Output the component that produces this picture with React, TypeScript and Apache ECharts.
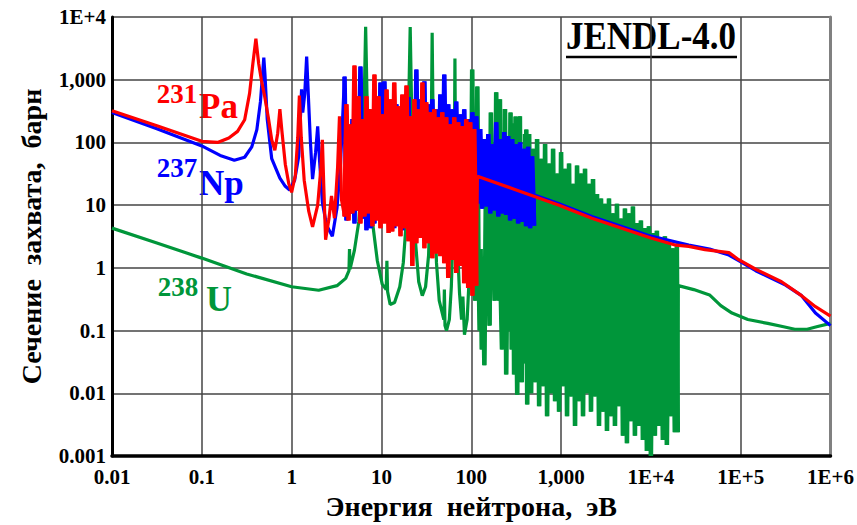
import React, { useEffect, useRef } from 'react';
import * as echarts from 'echarts';

// Tick labels
const ENERGY_TICK_LABELS = ['0.01', '0.1', '1', '10', '100', '1,000', '1E+4', '1E+5', '1E+6'];
const SIGMA_TICK_LABELS = ['0.001', '0.01', '0.1', '1', '10', '100', '1,000', '1E+4'];

// Capture cross-sections, [energy eV, sigma barn]
const PA231_CAPTURE: [number, number][] = [
  [0.01, 320], [0.0316, 185], [0.1, 104], [0.15, 100], [0.2, 118], [0.25, 150], [0.3, 230], [0.34, 600],
  [0.37, 1800], [0.4, 4500], [0.43, 1800], [0.46, 1000], [0.5, 550], [0.55, 250], [0.6, 110], [0.65, 75],
  [0.7, 140], [0.74, 340], [0.78, 150], [0.85, 45], [0.93, 22], [1.0, 16], [1.1, 30], [1.17, 120],
  [1.22, 560], [1.28, 120], [1.38, 25], [1.55, 8], [1.71, 4.5], [1.95, 10], [2.12, 40], [2.2, 110],
  [2.28, 20], [2.39, 2.8], [2.6, 6], [2.78, 14], [3.0, 6.2], [3.25, 40], [3.41, 260], [3.6, 12],
  [3.88, 6.6], [4.08, 405], [4.3, 5.7], [4.53, 195], [4.76, 7.4], [5.01, 1680], [5.27, 8.2], [5.55, 542],
  [5.84, 5.1], [6.15, 235], [6.47, 6.6], [6.81, 542], [7.17, 7.4], [7.55, 338], [7.94, 4.6], [8.36, 1210],
  [8.8, 5.7], [9.27, 542], [9.75, 4.3], [10.3, 281], [10.8, 5.1], [11.4, 700], [12.0, 3.6], [12.6, 487],
  [13.2, 3.8], [13.9, 900], [14.7, 4.6], [15.5, 377], [16.3, 3.2], [17.1, 583], [18.0, 4.3], [19.0, 810],
  [20.0, 2.65], [21.0, 262], [22.1, 1.07], [23.3, 487], [24.5, 2.47], [25.8, 338], [27.1, 3.0], [28.6, 900],
  [30.1, 2.06], [31.6, 436], [33.3, 2.47], [35.0, 303], [36.9, 1.43], [38.8, 338], [40.8, 1.7], [43.0, 252],
  [45.3, 1.54], [47.6, 303], [50.1, 1.19], [52.7, 252], [55.5, 0.69], [58.4, 195], [61.5, 1.33], [64.7, 252],
  [68.1, 0.83], [71.7, 210], [75.5, 1.07], [79.4, 182], [83.6, 0.57], [88.0, 235], [92.6, 0.48], [97.5, 210],
  [103, 0.36], [108, 163], [114, 0.52],
  [117, 29], [300, 18], [950, 10], [2200, 6.2], [10000, 3.0], [19000, 2.3], [26400, 2.2], [40000, 1.95],
  [74000, 1.75], [95000, 1.35], [147000, 0.95], [285000, 0.6], [476000, 0.36], [680000, 0.24], [1000000, 0.17],
];

const NP237_CAPTURE: [number, number][] = [
  [0.01, 300], [0.0316, 165], [0.1, 88], [0.16, 62], [0.23, 52], [0.3, 58], [0.36, 85], [0.41, 160],
  [0.45, 450], [0.48, 1500], [0.49, 2250], [0.505, 1200], [0.535, 235], [0.6, 55], [0.74, 27], [0.85, 20],
  [0.95, 17.5], [1.08, 25], [1.2, 60], [1.26, 300], [1.29, 700], [1.33, 300], [1.4, 600], [1.47, 2330],
  [1.54, 500], [1.62, 100], [1.71, 26], [1.85, 70], [1.95, 180], [2.05, 50], [2.2, 11], [2.45, 4.8],
  [2.84, 3.2], [3.2, 9], [3.5, 45], [3.7, 250],
  [3.88, 1120], [4.08, 5.7], [4.3, 113], [4.53, 7.4], [4.76, 235], [5.01, 5.1], [5.27, 487], [5.55, 8.2],
  [5.84, 1620], [6.15, 6.1], [6.47, 195], [6.81, 4.0], [7.17, 338], [7.55, 4.3], [7.94, 163], [8.36, 5.1],
  [8.8, 405], [9.27, 6.6], [9.75, 900], [10.3, 5.7], [10.8, 940], [11.4, 6.1], [12.0, 338], [12.6, 4.6],
  [13.2, 235], [13.9, 4.3], [14.7, 405], [15.5, 5.1], [16.3, 281], [17.1, 4.0], [18.0, 338], [19.0, 4.6],
  [20.0, 530], [21.0, 3.6], [22.1, 235], [23.3, 4.3], [24.5, 1450], [25.8, 3.8], [27.1, 487], [28.6, 4.6],
  [30.1, 940], [31.6, 3.6], [33.3, 405], [35.0, 4.3], [36.9, 487], [38.8, 3.8], [40.8, 338], [43.0, 4.6],
  [45.3, 583], [47.6, 5.1], [50.1, 1210], [52.7, 4.3], [55.5, 405], [58.4, 4.6], [61.5, 338], [64.7, 5.1],
  [68.1, 450], [71.7, 5.7], [75.5, 281], [79.4, 4.6], [83.6, 338], [88.0, 5.1], [92.6, 235], [97.5, 6.1],
  [103, 303], [108, 6.6], [114, 262], [120, 10.6], [126, 163], [132, 8.8], [139, 113], [147, 9.5],
  [155, 136], [163, 7.4], [171, 94], [180, 8.2], [190, 210], [200, 6.6], [210, 113], [221, 7.4],
  [233, 146], [245, 7.0], [258, 126], [271, 5.7], [286, 113], [301, 6.1], [316, 94], [333, 5.1],
  [350, 100], [369, 5.4], [388, 79], [408, 4.6], [430, 85], [453, 4.3], [476, 60], [501, 4.7],
  [505, 14.5], [950, 10.5], [2200, 6.6], [10000, 3.2], [26400, 2.3], [45000, 2.0], [74000, 1.6], [95000, 1.3],
  [147000, 0.9], [316000, 0.53], [476000, 0.36], [680000, 0.19], [1000000, 0.12],
];

const U238_CAPTURE: [number, number][] = [
  [0.01, 4.3], [0.0316, 2.5], [0.1, 1.43], [0.316, 0.8], [1.0, 0.5], [2.0, 0.44], [3.2, 0.52], [4.0, 0.68],
  [4.35, 0.9], [4.41, 2.0], [4.47, 0.95], [5.0, 1.9], [5.6, 5.5], [6.1, 40], [6.45, 600], [6.67, 7000],
  [6.9, 600], [7.3, 40], [8.0, 5], [9.0, 1.3], [10.2, 0.55], [11.3, 0.45], [11.5, 1.3], [11.7, 0.42],
  [12.5, 0.26], [14, 0.28], [16, 0.5], [17.5, 1.2], [18.6, 4], [19.6, 40], [20.3, 800], [20.9, 6900],
  [21.5, 700], [22.3, 40], [24, 2.5], [26, 0.6], [28.5, 0.36], [31, 0.5], [33.5, 1.6], [35.3, 20],
  [36.2, 600], [36.7, 5600], [37.3, 600], [38.5, 20], [41, 1.2], [44, 0.3], [49.5, 0.15], [50.2, 0.45],
  [51, 0.12], [53, 0.1], [57, 0.15], [60, 0.5], [63, 5], [64.8, 60], [65.8, 2170], [66.8, 60],
  [69, 4], [74, 0.4], [78, 0.15], [80.7, 0.35], [84, 0.086], [90, 0.15], [96, 1], [100, 20],
  [102.5, 1450], [105, 20], [108, 1.5], [111, 0.3], [114, 3], [116.9, 780], [120, 2], [124, 0.1],
  [127, 2], [131, 0.05], [135, 1], [140, 0.028], [145.7, 20], [150, 0.3], [155, 3], [160, 0.12],
  [165.3, 300], [170, 0.5], [176, 4], [182, 0.3], [189.7, 630], [195, 0.5], [200, 4], [204, 0.3],
  [208.5, 490], [214, 0.3], [220, 0.05], [226, 3], [232, 0.2], [237.4, 340], [245, 0.02], [252, 2],
  [260, 0.1], [266, 1.5], [273.7, 300], [282, 0.05], [291, 200], [300, 0.02], [305, 3], [311.4, 260],
  [318, 0.2], [325, 0.0095], [333, 2], [340, 0.05], [347.8, 262], [356, 0.2], [365, 0.015], [372, 1],
  [380, 0.03], [388, 4], [393, 0.2], [397.6, 136], [404, 0.05], [410.3, 160], [415, 0.5], [420, 0.0066],
  [428, 3], [434, 0.05], [441, 136],
  [464, 0.01], [489, 79], [514, 0.015], [541, 113], [570, 0.0062], [600, 55], [631, 0.013], [664, 94],
  [699, 0.0043], [736, 46], [774, 0.01], [815, 79], [858, 0.0075], [903, 32], [950, 0.0051], [1000, 70],
  [1052, 0.013], [1108, 38], [1166, 0.0043], [1227, 46], [1292, 0.0089], [1359, 22], [1431, 0.003], [1506, 43],
  [1585, 0.0075], [1668, 32], [1756, 0.0043], [1848, 38], [1945, 0.01], [2047, 22], [2154, 0.0051], [2268, 26],
  [2387, 0.0089], [2512, 15], [2644, 0.003], [2783, 12.7], [2929, 0.0051], [3083, 10.5], [3245, 0.0025], [3415, 12.7],
  [3594, 0.0043], [3783, 7.4], [3981, 0.003], [4190, 10.5], [4410, 0.0062], [4642, 6.1], [4885, 0.0021], [5142, 8.8],
  [5412, 0.0016], [5696, 7.4], [5995, 0.0036], [6310, 9.5], [6641, 0.0021], [6990, 5.2], [7356, 0.003], [7743, 5.7],
  [8149, 0.0018], [8577, 4.3], [9027, 0.0012], [9501, 4.6], [10000, 0.001], [10525, 3.6], [11077, 0.0021], [11659, 3.9],
  [12271, 0.003], [12915, 3.0], [13594, 0.0018], [14307, 3.2], [15058, 0.0015], [15849, 2.5], [16681, 0.0043], [17556, 2.06],
  [18478, 0.0024], [19448, 2.2], [19900, 0.0024],
  [20200, 0.52], [30000, 0.45], [45000, 0.37], [60000, 0.25], [80000, 0.19], [120000, 0.15], [200000, 0.13],
  [300000, 0.115], [400000, 0.105], [550000, 0.105], [700000, 0.115], [1000000, 0.13],
];

// Dense resonance ranges (eV) of each curve, drawn with a heavier stroke
const PA231_DENSE_RANGE = [3.88, 114];
const NP237_DENSE_RANGE = [3.88, 501];
const U238_DENSE_RANGE = [96, 19900];

const SERIES_NAMES = ['238U', '237Np', '231Pa'];
const SERIES_COLORS = ['#00963a', '#0000ff', '#ff0000'];

const FONT = '"Liberation Serif", "Times New Roman", serif';

export default function App() {
  const ref = useRef<HTMLDivElement>(null);

  useEffect(() => {
    if (!ref.current) return;
    const chart = echarts.init(ref.current, null, { renderer: 'svg' });
    const labelStyle = { fontFamily: FONT, fontWeight: 'bold' as const, fontSize: 21, color: '#000' };
    const datasets = [U238_CAPTURE, NP237_CAPTURE, PA231_CAPTURE];
    const ranges = [U238_DENSE_RANGE, NP237_DENSE_RANGE, PA231_DENSE_RANGE];

    const series: any[] = [];
    datasets.forEach((d, i) => {
      series.push({
        name: SERIES_NAMES[i],
        type: 'line',
        data: d,
        yAxisIndex: 0,
        symbol: 'none',
        showSymbol: false,
        clip: true,
        silent: true,
        lineStyle: { color: SERIES_COLORS[i], width: 3.2 },
        z: 2 + i,
      });
      series.push({
        name: SERIES_NAMES[i],
        type: 'line',
        data: d.filter((p) => p[0] >= ranges[i][0] && p[0] <= ranges[i][1]),
        yAxisIndex: 0,
        symbol: 'none',
        showSymbol: false,
        clip: true,
        silent: true,
        lineStyle: { color: SERIES_COLORS[i], width: 4.6, join: 'bevel' },
        z: 2 + i,
      });
    });

    chart.setOption({
      animation: false,
      backgroundColor: '#fff',
      grid: { left: 112, top: 17, right: 25, bottom: 66, containLabel: false },
      xAxis: {
        type: 'log',
        logBase: 10,
        min: 0.01,
        max: 1e6,
        name: 'Энергия  нейтрона,  эВ',
        nameLocation: 'middle',
        nameGap: 36,
        nameTextStyle: { fontFamily: FONT, fontWeight: 'bold', fontSize: 28, color: '#000' },
        axisLine: { show: true, lineStyle: { color: '#000', width: 3.5 } },
        axisTick: { show: false },
        splitLine: { show: true, lineStyle: { color: '#444', width: 1.5 } },
        axisLabel: {
          ...labelStyle,
          margin: 10,
          showMinLabel: true,
          showMaxLabel: true,
          formatter: (v: number) => ENERGY_TICK_LABELS[Math.round(Math.log10(v)) + 2] ?? '',
        },
      },
      yAxis: [
        {
          type: 'log',
          logBase: 10,
          min: 0.001,
          max: 1e4,
          position: 'left',
          name: 'Сечение  захвата,  барн',
          nameLocation: 'middle',
          nameGap: 67,
          nameRotate: 90,
          nameTextStyle: { fontFamily: FONT, fontWeight: 'bold', fontSize: 28, color: '#000' },
          axisLine: { show: true, lineStyle: { color: '#000', width: 3 } },
          axisTick: { show: false },
          splitLine: { show: true, lineStyle: { color: '#444', width: 1.5 } },
          axisLabel: {
            ...labelStyle,
            margin: 6,
            showMinLabel: true,
            showMaxLabel: true,
            formatter: (v: number) => SIGMA_TICK_LABELS[Math.round(Math.log10(v)) + 3] ?? '',
          },
        },
        {
          type: 'log',
          logBase: 10,
          min: 0.001,
          max: 1e4,
          position: 'right',
          axisLine: { show: true, lineStyle: { color: '#808080', width: 3 } },
          axisTick: { show: false },
          axisLabel: { show: false },
          splitLine: { show: false },
        },
      ],
      series,
      graphic: [
        {
          type: 'text',
          x: 566,
          y: 55,
          scaleY: 1.12,
          style: { text: 'JENDL-4.0', font: `bold 35px ${FONT}`, fill: '#000', verticalAlign: 'bottom' },
        },
        {
          type: 'line',
          shape: { x1: 566, y1: 57, x2: 737, y2: 57 },
          style: { stroke: '#000', lineWidth: 2.5 },
        },
        { type: 'text', x: 177, y: 94, style: { text: '231', font: `bold 27px ${FONT}`, fill: '#ff0000', align: 'center', verticalAlign: 'middle' } },
        { type: 'text', x: 199, y: 106, style: { text: 'Pa', font: `bold 35px ${FONT}`, fill: '#ff0000', align: 'left', verticalAlign: 'middle' } },
        { type: 'text', x: 177, y: 168, style: { text: '237', font: `bold 27px ${FONT}`, fill: '#0000ff', align: 'center', verticalAlign: 'middle' } },
        { type: 'text', x: 199, y: 183, style: { text: 'Np', font: `bold 35px ${FONT}`, fill: '#0000ff', align: 'left', verticalAlign: 'middle' } },
        { type: 'text', x: 178, y: 287, style: { text: '238', font: `bold 27px ${FONT}`, fill: '#00963a', align: 'center', verticalAlign: 'middle' } },
        { type: 'text', x: 206, y: 299, style: { text: 'U', font: `bold 36px ${FONT}`, fill: '#00963a', align: 'left', verticalAlign: 'middle' } },
      ],
    });
    return () => chart.dispose();
  }, []);

  return (
    <div
      ref={ref}
      style={{ position: 'absolute', left: 0, top: 0, width: 857, height: 525, background: '#fff' }}
    />
  );
}
